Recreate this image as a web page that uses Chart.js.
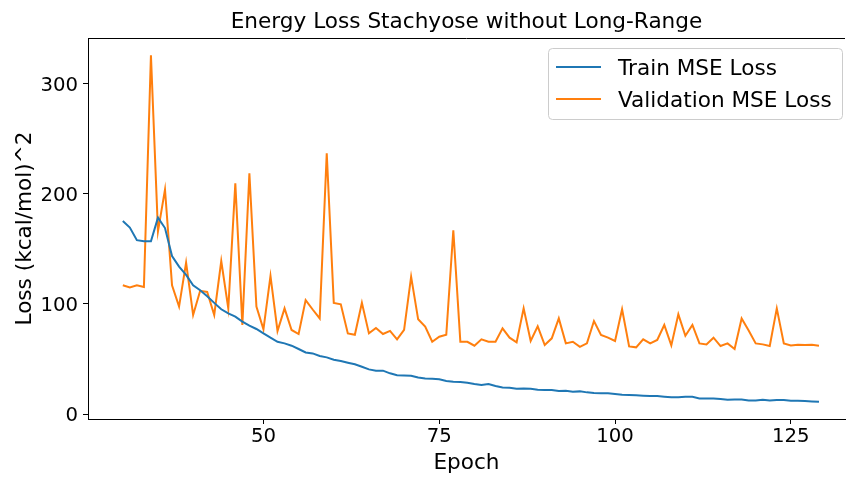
<!DOCTYPE html>
<html>
<head>
<meta charset="utf-8">
<script src="https://cdn.jsdelivr.net/npm/chart.js@4"></script>
<style>
  html, body { margin: 0; padding: 0; background: #fff; }
  canvas { display: block; }
</style>
</head>
<body>
<canvas id="lossChart" width="846" height="477"></canvas>
<script>
// epochs 30..129
const epochs = [
  30, 31, 32, 33, 34, 35, 36, 37, 38, 39, 40, 41, 42, 43, 44, 45, 46, 47, 48, 49,
  50, 51, 52, 53, 54, 55, 56, 57, 58, 59, 60, 61, 62, 63, 64, 65, 66, 67, 68, 69,
  70, 71, 72, 73, 74, 75, 76, 77, 78, 79, 80, 81, 82, 83, 84, 85, 86, 87, 88, 89,
  90, 91, 92, 93, 94, 95, 96, 97, 98, 99, 100, 101, 102, 103, 104, 105, 106, 107, 108, 109,
  110, 111, 112, 113, 114, 115, 116, 117, 118, 119, 120, 121, 122, 123, 124, 125, 126, 127, 128, 129
];

const trainLoss = [
  175.5, 169.5, 158, 157, 157, 178.5, 169, 143.6, 134, 126.4,
  117, 112.5, 107, 101, 95.2, 91.5, 88.5, 84, 80.3, 77.3,
  73.3, 69.4, 65.7, 64.2, 62.1, 59.1, 56, 55.1, 52.7, 51.5,
  49.4, 48.2, 46.7, 45.2, 43, 40.6, 39.4, 39.4, 37, 35.2,
  35, 34.8, 33.3, 32.4, 32, 31.7, 30, 29.4, 29.1, 28.5,
  27.3, 26.4, 27.3, 25.5, 24.2, 23.9, 23, 23.3, 23, 22.1,
  21.8, 21.8, 20.9, 21.2, 20.3, 20.6, 19.7, 19.1, 18.8, 18.8,
  18.2, 17.6, 17.3, 17, 16.7, 16.4, 16.4, 15.8, 15.2, 15.2,
  15.8, 15.8, 14.2, 14.2, 14.2, 13.6, 13, 13.3, 13.3, 12.4,
  12.4, 13, 12.4, 12.7, 12.7, 12.1, 12.1, 11.8, 11.5, 11.2
];

const valLoss = [
  117, 115, 117, 115.5, 326, 166, 204, 117, 97.6, 137.6,
  90, 112, 111, 90, 139, 96, 209.7, 81, 218.8, 97.6,
  77, 125.5, 75.5, 96, 76.4, 72.7, 103.6, 95, 86.9, 237,
  101, 99.7, 73.3, 72, 101, 73.3, 78.2, 72.7, 75.5, 67.9,
  76.4, 124.8, 86.1, 79.4, 65.7, 70.3, 72, 167, 65.6, 65.6,
  62.1, 67.9, 65.7, 65.7, 77.9, 69.4, 65.1, 96, 66.4, 79.7,
  62.7, 68.8, 86.9, 64.2, 65.7, 61, 64.2, 84.5, 71.8, 69.4,
  66.4, 95.2, 61.5, 60.6, 67.9, 64.2, 67.3, 80.9, 62.4, 90.6,
  71.2, 80.9, 64.2, 63.3, 69.4, 61.8, 64.2, 59.1, 86.9, 76,
  64.2, 63.3, 61.8, 96, 64.2, 62.4, 63, 62.7, 63, 62.1
];

const xTicks = [50, 75, 100, 125];
const yTicks = [0, 100, 200, 300];
const chartTitle = 'Energy Loss Stachyose without Long-Range';

const FONT = 'DejaVu Sans';
Chart.defaults.font.family = FONT;
Chart.defaults.color = '#000';

// title centred over the plot area (matplotlib does that, chart.js centres on canvas)
const axesTitle = {
    id: 'axesTitle',
    afterDraw(chart) {
        const a = chart.chartArea;
        const c = chart.ctx;
        c.save();
        c.fillStyle = '#000';
        c.font = '21.6px "' + FONT + '"';
        c.textAlign = 'center';
        c.textBaseline = 'middle';
        c.fillText(chartTitle, (a.left + a.right) / 2, 22);
        c.restore();
    }
};

// legend drawn inside the plot, matplotlib style
const boxLegend = {
    id: 'boxLegend',
    afterDraw(chart) {
        const c = chart.ctx;
        const x = 548.5, y = 48.5, w = 294, h = 71;
        c.save();
        c.beginPath();
        c.roundRect(x, y, w, h, 4);
        c.fillStyle = 'rgba(255,255,255,0.8)';
        c.fill();
        c.strokeStyle = '#cccccc';
        c.lineWidth = 1;
        c.stroke();
        const rows = [67, 99];
        const bases = [75, 107];
        chart.data.datasets.forEach((ds, i) => {
            c.beginPath();
            c.moveTo(556, rows[i]);
            c.lineTo(601, rows[i]);
            c.strokeStyle = ds.borderColor;
            c.lineWidth = 2;
            c.stroke();
            c.fillStyle = '#000';
            c.font = '21.6px "' + FONT + '"';
            c.textBaseline = 'alphabetic';
            c.textAlign = 'left';
            c.fillText(ds.label, 618, bases[i]);
        });
        c.restore();
    }
};

// top spine
const topSpine = {
    id: 'topSpine',
    afterDraw(chart) {
        const a = chart.chartArea;
        const c = chart.ctx;
        c.save();
        c.beginPath();
        c.moveTo(a.left, a.top + 0.5);
        c.lineTo(a.right, a.top + 0.5);
        c.strokeStyle = '#000';
        c.lineWidth = 1;
        c.stroke();
        c.restore();
    }
};

new Chart(document.getElementById('lossChart'), {
    type: 'line',
    data: {
        datasets: [
            {
                label: 'Train MSE Loss',
                data: epochs.map((e, i) => ({ x: e, y: trainLoss[i] })),
                borderColor: '#1f77b4',
                borderWidth: 2,
                pointRadius: 0,
                tension: 0
            },
            {
                label: 'Validation MSE Loss',
                data: epochs.map((e, i) => ({ x: e, y: valLoss[i] })),
                borderColor: '#ff7f0e',
                borderWidth: 2,
                pointRadius: 0,
                tension: 0
            }
        ]
    },
    options: {
        responsive: false,
        animation: false,
        layout: { padding: { left: 0, right: 1, top: 38, bottom: 0 } },
        scales: {
            x: {
                type: 'linear',
                min: 25.05,
                max: 132.7,
                afterBuildTicks: s => { s.ticks = xTicks.map(v => ({ value: v })); },
                afterFit: s => { s.height = 58; },
                grid: { drawOnChartArea: false, drawTicks: true, tickLength: 5, color: '#000' },
                border: { display: true, color: '#000', width: 1 },
                ticks: { font: { size: 19.7 }, padding: 1, maxRotation: 0 },
                title: { display: true, text: 'Epoch', font: { size: 21.6 }, padding: { top: 0, bottom: 1 } }
            },
            y: {
                min: -4.5,
                max: 341.7,
                afterBuildTicks: s => { s.ticks = yTicks.map(v => ({ value: v })); },
                afterFit: s => { s.width = 88; },
                grid: { drawOnChartArea: false, drawTicks: true, tickLength: 5, color: '#000' },
                border: { display: true, color: '#000', width: 1 },
                ticks: { font: { size: 19.7 }, padding: 5, labelOffset: 2 },
                title: { display: true, text: 'Loss (kcal/mol)^2', font: { size: 21.6 }, padding: { top: 12, bottom: 0 } }
            }
        },
        plugins: {
            legend: { display: false },
            tooltip: { enabled: false },
            title: { display: false }
        }
    },
    plugins: [axesTitle, boxLegend, topSpine]
});
</script>
</body>
</html>
